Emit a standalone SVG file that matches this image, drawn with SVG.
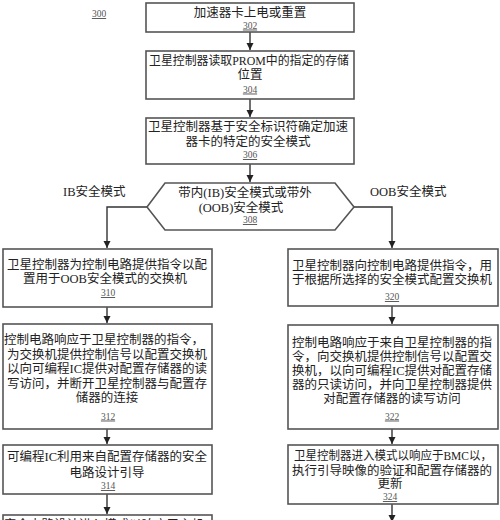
<svg xmlns="http://www.w3.org/2000/svg" width="500" height="520" viewBox="0 0 500 520">
<defs>
<marker id="ah" markerWidth="8" markerHeight="8" refX="7" refY="4" orient="auto" markerUnits="userSpaceOnUse">
<path d="M0,0.5 L7,4 L0,7.5 Z" fill="#222"/>
</marker>
<style>
.box{fill:#fff;stroke:#555;stroke-width:1.6}
.t{font-family:"Liberation Serif","Noto Sans CJK SC",serif;font-size:12.5px;fill:#222;text-anchor:middle}
.n{font-family:"Liberation Serif","Noto Sans CJK SC",serif;font-size:9.5px;fill:#555;text-anchor:middle;text-decoration:underline}
.lbl{font-family:"Liberation Serif","Noto Sans CJK SC",serif;font-size:12.5px;fill:#222}
.c{fill:none;stroke:#333;stroke-width:1.4}
</style>
</defs>
<rect width="500" height="520" fill="#fff"/>
<text class="n" x="99" y="17">300</text>

<g id="connectors">
<path class="c" d="M250,32 V50" marker-end="url(#ah)"/>
<path class="c" d="M250,99 V117" marker-end="url(#ah)"/>
<path class="c" d="M250,164 V182" marker-end="url(#ah)"/>
<path class="c" d="M147,207 H107 V248" marker-end="url(#ah)"/>
<path class="c" d="M354,207 H392 V248" marker-end="url(#ah)"/>
<path class="c" d="M107,307 V323" marker-end="url(#ah)"/>
<path class="c" d="M107,429 V444" marker-end="url(#ah)"/>
<path class="c" d="M107,494 V514" marker-end="url(#ah)"/>
<path class="c" d="M392,306 V324" marker-end="url(#ah)"/>
<path class="c" d="M392,429 V444" marker-end="url(#ah)"/>
<path class="c" d="M392,504 V522" marker-end="url(#ah)"/>
<text class="lbl" x="63" y="196">IB安全模式</text>
<text class="lbl" x="370" y="196">OOB安全模式</text>
</g>

<g id="n302">
<rect class="box" x="146" y="3" width="208" height="29"/>
<text class="t" x="250" y="17">加速器卡上电或重置</text>
<text class="n" x="250" y="28.5">302</text>
</g>

<g id="n304">
<rect class="box" x="146" y="51" width="208" height="48"/>
<text class="t" x="249" y="65" textLength="200" lengthAdjust="spacingAndGlyphs">卫星控制器读取PROM中的指定的存储</text>
<text class="t" x="250" y="79">位置</text>
<text class="n" x="250" y="92.5">304</text>
</g>

<g id="n306">
<rect class="box" x="146" y="118" width="208" height="46"/>
<text class="t" x="248" y="131">卫星控制器基于安全标识符确定加速</text>
<text class="t" x="248" y="146">器卡的特定的安全模式</text>
<text class="n" x="250" y="158">306</text>
</g>

<g id="n308">
<polygon class="box" points="165,183 335,183 354,207 335,230 165,230 147,207"/>
<text class="t" x="245" y="197">带内(IB)安全模式或带外</text>
<text class="t" x="241" y="212">(OOB)安全模式</text>
<text class="n" x="250" y="223">308</text>
</g>

<g id="n310">
<rect class="box" x="3" y="249" width="209" height="58"/>
<text class="t" x="107" y="269">卫星控制器为控制电路提供指令以配</text>
<text class="t" x="105" y="283">置用于OOB安全模式的交换机</text>
<text class="n" x="108" y="296">310</text>
</g>

<g id="n320">
<rect class="box" x="288" y="249" width="210" height="57"/>
<text class="t" x="392" y="270">卫星控制器向控制电路提供指令，用</text>
<text class="t" x="392" y="284">于根据所选择的安全模式配置交换机</text>
<text class="n" x="392" y="300">320</text>
</g>

<g id="n312">
<rect class="box" x="3" y="324" width="209" height="105"/>
<text class="t" x="104" y="344">控制电路响应于卫星控制器的指令，</text>
<text class="t" x="107" y="358.5">为交换机提供控制信号以配置交换机</text>
<text class="t" x="107" y="373">以向可编程IC提供对配置存储器的读</text>
<text class="t" x="107" y="387.5">写访问，并断开卫星控制器与配置存</text>
<text class="t" x="107" y="402">储器的连接</text>
<text class="n" x="108" y="419.5">312</text>
</g>

<g id="n322">
<rect class="box" x="288" y="325" width="210" height="104"/>
<text class="t" x="392" y="347">控制电路响应于来自卫星控制器的指</text>
<text class="t" x="392" y="360.5">令，向交换机提供控制信号以配置交</text>
<text class="t" x="392" y="374.5">换机，以向可编程IC提供对配置存储</text>
<text class="t" x="392" y="389">器的只读访问，并向卫星控制器提供</text>
<text class="t" x="392" y="403">对配置存储器的读写访问</text>
<text class="n" x="392" y="419.5">322</text>
</g>

<g id="n314">
<rect class="box" x="3" y="445" width="209" height="49"/>
<text class="t" x="107" y="461">可编程IC利用来自配置存储器的安全</text>
<text class="t" x="107" y="477">电路设计引导</text>
<text class="n" x="108" y="489">314</text>
</g>

<g id="n324">
<rect class="box" x="288" y="445" width="210" height="59"/>
<text class="t" x="393" y="460" style="font-size:12px" textLength="198" lengthAdjust="spacingAndGlyphs">卫星控制器进入模式以响应于BMC以，</text>
<text class="t" x="392" y="475">执行引导映像的验证和配置存储器的</text>
<text class="t" x="390" y="488">更新</text>
<text class="n" x="390" y="500">324</text>
</g>

<g id="n316">
<rect class="box" x="3" y="515" width="209" height="20"/>
<text class="t" x="104" y="529">安全电路设计进入模式以响应于主机</text>
</g>
</svg>
